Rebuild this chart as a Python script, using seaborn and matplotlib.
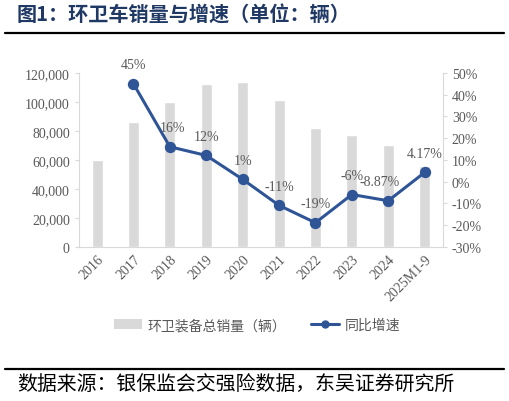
import pandas as pd
import matplotlib
matplotlib.use("Agg")
import matplotlib.pyplot as plt
import seaborn as sns
from matplotlib.lines import Line2D
from matplotlib.patches import Patch
from matplotlib.ticker import FuncFormatter, MultipleLocator

# data
years = ['2016', '2017', '2018', '2019', '2020', '2021', '2022', '2023', '2024', '2025M1-9']
sales = [60000, 86000, 100000, 112500, 114000, 101000, 82000, 77000, 70000, 56000]
growth_years = years[1:]
growth = [45, 16, 12, 1, -11, -19, -6, -8.87, 4.17]
growth_labels = ['45%', '16%', '12%', '1%', '-11%', '-19%', '-6%', '-8.87%', '4.17%']

bar_color = '#d9d9d9'
line_color = '#2f5597'
text_gray = '#595959'
axis_gray = '#d9d9d9'

sns.set_style("white")
plt.rcParams['font.family'] = ['Liberation Serif', 'Noto Sans CJK SC', 'DejaVu Sans']
plt.rcParams['axes.unicode_minus'] = False
cjk = ['Noto Sans CJK SC', 'DejaVu Sans']

fig = plt.figure(figsize=(5.09, 4.02), dpi=100)
ax = fig.add_axes([0.155, 0.384, 0.715, 0.432])

df_bar = pd.DataFrame({'year': years, 'sales': sales})
sns.barplot(data=df_bar, x='year', y='sales', order=years, color=bar_color,
            width=0.3, saturation=1, ax=ax)
ax.set_ylim(0, 120000)
ax.yaxis.set_major_locator(MultipleLocator(20000))
ax.yaxis.set_major_formatter(FuncFormatter(lambda v, p: f'{int(v):,}'))
ax.set_xlabel('')
ax.set_ylabel('')

ax2 = ax.twinx()
df_line = pd.DataFrame({'year': growth_years, 'growth': growth})
sns.pointplot(data=df_line, x='year', y='growth', order=years, color=line_color,
              markers='o', markersize=6.5, linewidth=2.2, ax=ax2)
ax2.set_ylim(-30, 50)
ax2.yaxis.set_major_locator(MultipleLocator(10))
ax2.yaxis.set_major_formatter(FuncFormatter(lambda v, p: f'{int(round(v))}%'))
ax2.set_xlabel('')
ax2.set_ylabel('')
ax.set_xlim(-0.5, len(years) - 0.5)

# data labels
offsets = {'16%': (2, 9), '-8.87%': (-6, 9), '4.17%': (0, 9)}
for yr, val, lab in zip(growth_years, growth, growth_labels):
    dx, dy = offsets.get(lab, (0, 9))
    ax2.annotate(lab, (years.index(yr), val), xytext=(dx, dy), textcoords='offset points',
                 ha='center', va='bottom', fontsize=10, color=text_gray)

for a in (ax, ax2):
    for s in a.spines.values():
        s.set_visible(False)
    a.tick_params(colors=text_gray, labelsize=10, length=3, width=0.8, color=axis_gray)
ax.spines['left'].set_visible(True)
ax.spines['bottom'].set_visible(True)
ax2.spines['right'].set_visible(True)
for s in (ax.spines['left'], ax.spines['bottom'], ax2.spines['right']):
    s.set_color(axis_gray)
    s.set_linewidth(0.8)
ax.tick_params(axis='x', length=0, pad=4)
plt.setp(ax.get_xticklabels(), rotation=45, ha='right', rotation_mode='anchor')

# legend
handles = [Patch(facecolor=bar_color, edgecolor='none'),
           Line2D([0], [0], color=line_color, lw=2.2, marker='o', markersize=5)]
fig.legend(handles, ['环卫装备总销量（辆）', '同比增速'], loc='center',
           bbox_to_anchor=(0.505, 0.189), ncol=2, frameon=False, handlelength=2.0,
           columnspacing=1.8, handletextpad=0.4,
           prop={'family': cjk, 'size': 10}, labelcolor=text_gray)

# title, rules and source
fig.text(0.033, 0.962, '图1：环卫车销量与增速（单位：辆）', ha='left', va='center',
         fontsize=14.5, fontweight='bold', color='#1f3864', family=cjk)
fig.add_artist(Line2D([0.01, 0.99], [0.915, 0.915], color='black', lw=1.6))
fig.add_artist(Line2D([0.01, 0.99], [0.080, 0.080], color='black', lw=1.6))
fig.text(0.033, 0.042, '数据来源：银保监会交强险数据，东吴证券研究所', ha='left', va='center',
         fontsize=14.3, color='black', family=cjk)

fig.savefig('out.png', dpi=100)
